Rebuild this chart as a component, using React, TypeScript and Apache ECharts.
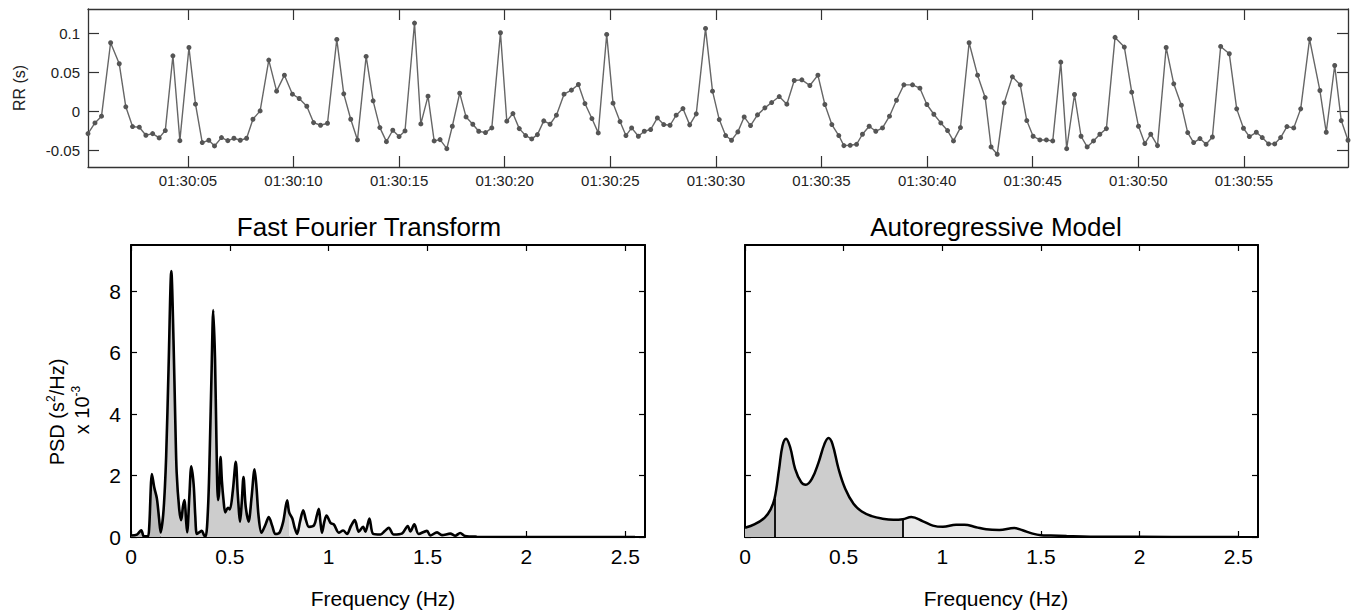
import React, { useEffect, useRef } from 'react';
import * as echarts from 'echarts';

// ---------- RR interval series (top panel) ----------
const rrTime = [
  0.27, 0.6, 0.91, 1.34, 1.75, 2.06, 2.38, 2.7, 3.01, 3.33, 3.64, 3.93, 4.29, 4.62, 5.05, 5.36, 5.68, 5.99, 6.26, 6.59,
  6.89, 7.18, 7.48, 7.78, 8.08, 8.42, 8.83, 9.2, 9.57, 9.95, 10.27, 10.63, 10.95, 11.28, 11.61, 12.05, 12.38, 12.71, 13.03, 13.44,
  13.77, 14.09, 14.4, 14.7, 15.0, 15.28, 15.73, 16.03, 16.37, 16.66, 16.94, 17.26,
  17.52, 17.87, 18.17, 18.49, 18.77, 19.09, 19.39, 19.8, 20.1, 20.39, 20.69, 20.99, 21.28, 21.55, 21.85, 22.15, 22.45, 22.81,
  23.16, 23.49, 23.8, 24.13, 24.43, 24.83, 25.13, 25.46, 25.74, 26.01, 26.33, 26.61, 26.91, 27.23, 27.53, 27.83, 28.12, 28.44,
  28.76, 29.07, 29.51, 29.84, 30.16, 30.46, 30.74, 31.04, 31.34, 31.64, 31.97, 32.32, 32.64, 33.0, 33.36, 33.71, 34.07, 34.45,
  34.83, 35.16, 35.49, 35.82, 36.06, 36.36, 36.66, 36.94, 37.26, 37.57, 37.89, 38.22,
  38.55, 38.9, 39.31, 39.66, 39.99, 40.32, 40.65, 40.97, 41.25, 41.58, 41.99, 42.39, 42.75, 43.03, 43.32, 43.65, 44.04, 44.41,
  44.72, 45.02, 45.34, 45.65, 45.95, 46.33, 46.61, 46.98, 47.29, 47.58, 47.88, 48.18, 48.49, 48.9, 49.34, 49.69, 50.01, 50.31,
  50.59, 50.91, 51.32, 51.68, 52.04, 52.34, 52.62, 52.92, 53.21, 53.51, 53.9, 54.31, 54.66, 54.98, 55.26, 55.59, 55.87, 56.17,
  56.46, 56.74, 57.04, 57.36, 57.69, 58.11, 58.6, 58.9, 59.3, 59.61, 59.93,
];
const rrValue = [
  -0.0287, -0.015, -0.0064, 0.0877, 0.0608, 0.0056, -0.0197, -0.0205, -0.0308, -0.0287, -0.0342, -0.0248, 0.071, -0.0377, 0.0817, 0.009, -0.0402, -0.0372, -0.0445, -0.0338,
  -0.0377, -0.0347, -0.0372, -0.0347, -0.0103, 0.0004, 0.0655, 0.0257, 0.0462, 0.0218, 0.0163, 0.0064, -0.0146, -0.018, -0.0154, 0.092, 0.0223, -0.0103, -0.0368, 0.0702,
  0.0133, -0.021, -0.039, -0.0244, -0.0325, -0.0253, 0.113, -0.0163, 0.0193, -0.0381, -0.0364, -0.048,
  -0.0193, 0.0231, -0.0073, -0.0167, -0.0257, -0.0274, -0.0214, 0.1006, -0.0128, -0.003, -0.0223, -0.0312, -0.0355, -0.03, -0.0124, -0.0167, -0.0051, 0.0218,
  0.027, 0.0342, 0.0098, -0.0094, -0.0278, 0.0984, 0.0103, -0.0133, -0.0312, -0.0214, -0.0321, -0.0257, -0.0235, -0.0086, -0.0171, -0.018, -0.0051, 0.0034,
  -0.0175, -0.0034, 0.1061, 0.0257, -0.0107, -0.0312, -0.0372, -0.0265, -0.0073, -0.0184, -0.0047, 0.0043, 0.0111, 0.0188, 0.009, 0.0394, 0.0402, 0.033,
  0.0462, 0.0086, -0.0171, -0.0312, -0.0441, -0.0437, -0.0424, -0.0295, -0.0193, -0.0257, -0.0214, -0.0064,
  0.0141, 0.0338, 0.0338, 0.0295, 0.0086, -0.0039, -0.015, -0.0248, -0.0381, -0.021, 0.0877, 0.0462, 0.0175, -0.0458, -0.0552, 0.0107, 0.0441, 0.0338,
  -0.012, -0.0321, -0.0368, -0.0368, -0.0381, 0.0629, -0.048, 0.0214, -0.0321, -0.0458, -0.0381, -0.0295, -0.0223, 0.0946, 0.0822, 0.0244, -0.0193, -0.0415,
  -0.0295, -0.0441, 0.0817, 0.0351, 0.0077, -0.0274, -0.0402, -0.0351, -0.0424, -0.033, 0.083, 0.0736, 0.003, -0.0218, -0.0325, -0.027, -0.0338, -0.0419,
  -0.0419, -0.0338, -0.0197, -0.0214, 0.003, 0.0924, 0.0265, -0.027, 0.0586, -0.012, -0.0372,
];
const rrTickSeconds = [5, 10, 15, 20, 25, 30, 35, 40, 45, 50, 55];
const rrTickLabels = [
  '01:30:05', '01:30:10', '01:30:15', '01:30:20', '01:30:25', '01:30:30',
  '01:30:35', '01:30:40', '01:30:45', '01:30:50', '01:30:55',
];
const rrYTicks = [-0.05, 0, 0.05, 0.1];

// ---------- FFT spectrum ----------
const fftFreq = [
  0, 0.03, 0.052, 0.065, 0.085, 0.092, 0.106, 0.118, 0.131, 0.142, 0.15, 0.165, 0.178, 0.19, 0.204, 0.215, 0.224, 0.231, 0.244, 0.254,
  0.263, 0.271, 0.278, 0.284, 0.295, 0.305, 0.317, 0.325, 0.333, 0.345, 0.358, 0.37, 0.378, 0.39, 0.398, 0.408, 0.416, 0.425, 0.432, 0.44,
  0.446, 0.453, 0.46, 0.468, 0.477, 0.49, 0.5, 0.515, 0.53, 0.54, 0.552, 0.56, 0.569, 0.58, 0.595, 0.61, 0.625, 0.635, 0.645, 0.66,
  0.68, 0.697, 0.715, 0.73, 0.751, 0.77, 0.79, 0.8, 0.816, 0.828, 0.84, 0.855, 0.871, 0.885, 0.9, 0.926, 0.94, 0.95, 0.958, 0.966,
  0.978, 0.989, 1.009, 1.026, 1.051, 1.073, 1.093, 1.112, 1.132, 1.152, 1.174, 1.186, 1.206, 1.225, 1.262, 1.285, 1.304, 1.329, 1.372, 1.4,
  1.413, 1.433, 1.455, 1.497, 1.514, 1.548, 1.573, 1.615, 1.64, 1.665, 1.69, 1.75, 2.0, 2.55,
];
const fftPsd = [
  0.05, 0.08, 0.22, 0.02, 0.02, 0.3, 2.05, 1.6, 1.25, 0.6, 0.15, 0.9, 2.65, 5.5, 8.65, 6.4, 3.8, 2.1, 0.9, 0.55,
  1.0, 1.2, 0.6, 0.15, 1.3, 2.3, 1.7, 0.7, 0.1, 0.15, 0.2, 0.05, 0.02, 1.0, 2.7, 5.5, 7.38, 5.8, 3.2, 1.2,
  1.5, 2.6, 1.8, 1.2, 0.8, 0.95, 0.9, 1.5, 2.45, 1.4, 0.5, 1.1, 1.95, 1.0, 0.5, 1.3, 2.2, 1.6, 0.7, 0.14,
  0.4, 0.65, 0.35, 0.1, 0.14, 0.5, 1.19, 0.8, 0.6, 0.3, 0.1, 0.5, 0.87, 0.55, 0.33, 0.38, 0.7, 0.92, 0.5, 0.14,
  0.5, 0.7, 0.46, 0.41, 0.14, 0.21, 0.1, 0.35, 0.55, 0.17, 0.33, 0.17, 0.6, 0.1, 0.08, 0.2, 0.3, 0.08, 0.12, 0.36,
  0.18, 0.41, 0.1, 0.2, 0.05, 0.15, 0.06, 0.11, 0.04, 0.13, 0.03, 0.01, 0.0, 0.0,
];

// ---------- Autoregressive spectrum ----------
const arFreq = [
  0, 0.05, 0.1, 0.13, 0.15, 0.173, 0.19, 0.208, 0.229, 0.254, 0.285, 0.308, 0.339, 0.373, 0.403, 0.423, 0.443, 0.474, 0.508, 0.55,
  0.592, 0.642, 0.693, 0.752, 0.8, 0.843, 0.902, 0.952, 1.003, 1.07, 1.112, 1.171, 1.222, 1.289, 1.365, 1.407, 1.458, 1.5, 1.55, 1.63,
  1.75, 2.0, 2.5,
];
const arPsd = [
  0.3, 0.42, 0.63, 0.9, 1.25, 2.22, 2.97, 3.2, 2.92, 2.22, 1.78, 1.7, 1.89, 2.43, 3.03, 3.22, 3.03, 2.22, 1.57, 1.08,
  0.83, 0.68, 0.6, 0.56, 0.58, 0.65, 0.51, 0.37, 0.33, 0.4, 0.4, 0.32, 0.25, 0.23, 0.29, 0.22, 0.11, 0.06, 0.05, 0.03,
  0.01, 0.005, 0.0,
];

const freqTicks = [0, 0.5, 1, 1.5, 2, 2.5];
const psdTicks = [0, 2, 4, 6, 8];
const bandEdges = [0, 0.15, 0.8, 2.6];
const bandColors = ['#bcbcbc', '#cdcdcd', '#e9e9e9'];

const FONT = '"Liberation Sans", Arial, Helvetica, sans-serif';

function zip(xs: number[], ys: number[]) {
  return xs.map((x, i) => [x, ys[i]]);
}

function bandSeries(xs: number[], ys: number[], axis: number, smooth: number) {
  const out: any[] = [];
  for (let b = 0; b < bandEdges.length - 1; b++) {
    const lo = bandEdges[b];
    const hi = bandEdges[b + 1];
    const data = zip(xs, ys).filter((p) => p[0] >= lo && p[0] <= hi);
    out.push({
      type: 'line',
      xAxisIndex: axis,
      yAxisIndex: axis,
      data,
      smooth,
      symbol: 'none',
      silent: true,
      z: 1,
      lineStyle: { width: 0, opacity: 0 },
      areaStyle: { color: bandColors[b], opacity: 1 },
    });
  }
  return out;
}

function xAxes(grid: number, min: number, max: number, ticks: number[], tickLen: number, lineW: number, color: string, label: any) {
  const base = {
    gridIndex: grid,
    type: 'value',
    min,
    max,
    splitLine: { show: false },
    axisLine: { show: true, onZero: false, lineStyle: { color, width: lineW } },
    axisTick: { show: true, inside: true, length: tickLen, customValues: ticks, lineStyle: { color, width: 1.2 } },
  };
  return [
    { ...base, position: 'bottom', axisLabel: label },
    { ...base, position: 'top', axisLabel: { show: false } },
  ];
}

function yAxes(grid: number, min: number, max: number, ticks: number[], tickLen: number, lineW: number, color: string, label: any) {
  const base = {
    gridIndex: grid,
    type: 'value',
    min,
    max,
    splitLine: { show: false },
    axisLine: { show: true, onZero: false, lineStyle: { color, width: lineW } },
    axisTick: { show: true, inside: true, length: tickLen, customValues: ticks, lineStyle: { color, width: 1.2 } },
  };
  return [
    { ...base, position: 'left', axisLabel: label },
    { ...base, position: 'right', axisLabel: { show: false } },
  ];
}

export default function App() {
  const ref = useRef<HTMLDivElement>(null);

  useEffect(() => {
    document.body.style.margin = '0';
    if (!ref.current) return;
    const chart = echarts.init(ref.current, null, { renderer: 'svg' });

    const topLabel = {
      show: true,
      customValues: rrTickSeconds,
      fontFamily: FONT,
      fontSize: 15,
      color: '#222',
      margin: 6,
      formatter: (v: number) => {
        const i = rrTickSeconds.indexOf(v);
        return i >= 0 ? rrTickLabels[i] : '';
      },
    };
    const topYLabel = { show: true, customValues: rrYTicks, fontFamily: FONT, fontSize: 15, color: '#222', margin: 8 };
    const freqLabel = { show: true, customValues: freqTicks, fontFamily: FONT, fontSize: 21, color: '#000', margin: 9 };
    const psdLabel = { show: true, customValues: psdTicks, fontFamily: FONT, fontSize: 21, color: '#000', margin: 10 };

    const grids = [
      { left: 88, top: 9, width: 1260, height: 158 },
      { left: 131, top: 245, width: 514, height: 292 },
      { left: 745, top: 245, width: 513, height: 292 },
    ].map((g) => ({ ...g, containLabel: false, outerBoundsMode: 'none' }));

    const xAxis = [
      ...xAxes(0, 0.27, 59.93, rrTickSeconds, 11, 1.3, '#333', topLabel),
      ...xAxes(1, 0, 2.6, freqTicks, 6, 2, '#000', freqLabel),
      ...xAxes(2, 0, 2.6, freqTicks, 6, 2, '#000', freqLabel),
    ];
    const yAxis = [
      ...yAxes(0, -0.0715, 0.131, rrYTicks, 11, 1.3, '#333', topYLabel),
      ...yAxes(1, 0, 9.5, psdTicks, 6, 2, '#000', psdLabel),
      ...yAxes(2, 0, 9.5, psdTicks, 6, 2, '#000', { show: false }),
    ];

    const edgeMarks = bandEdges.slice(1, 3).map((e) => {
      const i = arFreq.indexOf(e);
      return [{ coord: [e, 0] }, { coord: [e, arPsd[i]] }];
    });

    const series: any[] = [
      {
        type: 'line',
        xAxisIndex: 0,
        yAxisIndex: 0,
        data: zip(rrTime, rrValue),
        symbol: 'circle',
        symbolSize: 5,
        showSymbol: true,
        lineStyle: { color: '#666', width: 1.4 },
        itemStyle: { color: '#555' },
        z: 3,
      },
      ...bandSeries(fftFreq, fftPsd, 2, 0.3),
      {
        type: 'line',
        xAxisIndex: 2,
        yAxisIndex: 2,
        data: zip(fftFreq, fftPsd),
        smooth: 0.3,
        symbol: 'none',
        lineStyle: { color: '#000', width: 2.6 },
        z: 3,
      },
      ...bandSeries(arFreq, arPsd, 4, 0.4),
      {
        type: 'line',
        xAxisIndex: 4,
        yAxisIndex: 4,
        data: zip(arFreq, arPsd),
        smooth: 0.4,
        symbol: 'none',
        lineStyle: { color: '#000', width: 2.5 },
        z: 3,
        markLine: {
          silent: true,
          symbol: 'none',
          label: { show: false },
          lineStyle: { color: '#000', width: 1.8, type: 'solid' },
          data: edgeMarks,
        },
      },
    ];

    const graphic = [
      {
        type: 'text',
        x: 19,
        y: 88,
        rotation: Math.PI / 2,
        style: { text: 'RR (s)', font: `16px ${FONT}`, fill: '#222', align: 'center', verticalAlign: 'middle', textAlign: 'center', textVerticalAlign: 'middle' },
      },
      {
        type: 'text',
        x: 369,
        y: 227,
        style: { text: 'Fast Fourier Transform', font: `26px ${FONT}`, fill: '#000', align: 'center', verticalAlign: 'middle', textAlign: 'center', textVerticalAlign: 'middle' },
      },
      {
        type: 'text',
        x: 996,
        y: 227,
        style: { text: 'Autoregressive Model', font: `26px ${FONT}`, fill: '#000', align: 'center', verticalAlign: 'middle', textAlign: 'center', textVerticalAlign: 'middle' },
      },
      {
        type: 'text',
        x: 383,
        y: 598,
        style: { text: 'Frequency (Hz)', font: `21px ${FONT}`, fill: '#000', align: 'center', verticalAlign: 'middle', textAlign: 'center', textVerticalAlign: 'middle' },
      },
      {
        type: 'text',
        x: 996,
        y: 598,
        style: { text: 'Frequency (Hz)', font: `21px ${FONT}`, fill: '#000', align: 'center', verticalAlign: 'middle', textAlign: 'center', textVerticalAlign: 'middle' },
      },
      {
        type: 'text',
        x: 57,
        y: 412,
        rotation: Math.PI / 2,
        style: {
          text: '{a|PSD (s}{b|2}{a|/Hz)}',
          align: 'center',
          verticalAlign: 'middle',
          textAlign: 'center',
          textVerticalAlign: 'middle',
          rich: {
            a: { fontFamily: FONT, fontSize: 20, color: '#000', lineHeight: 24 },
            b: { fontFamily: FONT, fontSize: 12, color: '#000', verticalAlign: 'top' },
          },
        },
      },
      {
        type: 'text',
        x: 82,
        y: 410,
        rotation: Math.PI / 2,
        style: {
          text: '{a|x 10}{b|-3}',
          align: 'center',
          verticalAlign: 'middle',
          textAlign: 'center',
          textVerticalAlign: 'middle',
          rich: {
            a: { fontFamily: FONT, fontSize: 20, color: '#000', lineHeight: 24 },
            b: { fontFamily: FONT, fontSize: 12, color: '#000', verticalAlign: 'top' },
          },
        },
      },
    ];

    chart.setOption({
      animation: false,
      backgroundColor: '#fff',
      textStyle: { fontFamily: FONT },
      grid: grids,
      xAxis,
      yAxis,
      series,
      graphic,
    });

    return () => chart.dispose();
  }, []);

  return <div ref={ref} style={{ width: 1354, height: 611 }} />;
}
